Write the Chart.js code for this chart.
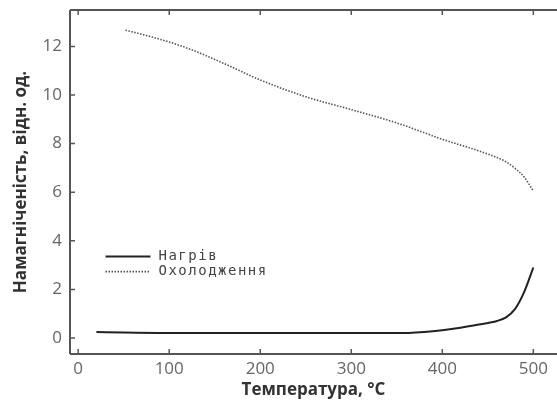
<!DOCTYPE html>
<html><head><meta charset="utf-8">
<script src="https://cdn.jsdelivr.net/npm/chart.js@4.4.1/dist/chart.umd.min.js"></script>
<style>html,body{margin:0;padding:0;background:#fff;overflow:hidden}#wrap{width:557px;height:403px}</style>
</head><body><div id="wrap"><canvas id="c"></canvas></div>
<script>
const heatT = [20, 50, 100, 150, 200, 250, 300, 350, 380, 400, 420, 440, 460, 470, 480, 490, 500];
const heatM = [0.25, 0.22, 0.2, 0.2, 0.2, 0.2, 0.2, 0.2, 0.25, 0.32, 0.42, 0.55, 0.7, 0.85, 1.2, 1.9, 2.9];
const coolT = [52, 80, 120, 160, 200, 250, 300, 350, 400, 450, 470, 480, 490, 500];
const coolM = [12.67, 12.4, 11.93, 11.3, 10.62, 9.93, 9.4, 8.85, 8.18, 7.57, 7.25, 6.98, 6.62, 6.05];
const xTicks = [0, 100, 200, 300, 400, 500];
const yTicks = [0, 2, 4, 6, 8, 10, 12];
const seriesNames = ['Нагрів', 'Охолодження'];
const xTitle = 'Температура, °C';
const yTitle = 'Намагніченість, відн. од.';

const framePlugin = {
  id: 'frame',
  afterDraw(chart) {
    const {ctx, chartArea: a, scales: {x, y}} = chart;
    ctx.save();
    ctx.strokeStyle = '#555';
    ctx.lineWidth = 2;
    ctx.beginPath();
    ctx.moveTo(a.left, a.top); ctx.lineTo(a.left, a.bottom);
    ctx.moveTo(a.left, a.bottom); ctx.lineTo(a.right, a.bottom);
    ctx.moveTo(a.left, a.top); ctx.lineTo(a.right, a.top);
    ctx.stroke();
    ctx.lineWidth = 1.5;
    ctx.beginPath();
    xTicks.forEach(v => {
      const px = x.getPixelForValue(v);
      ctx.moveTo(px, a.bottom); ctx.lineTo(px, a.bottom - 5);
      ctx.moveTo(px, a.top); ctx.lineTo(px, a.top + 5);
    });
    yTicks.forEach(v => {
      const py = y.getPixelForValue(v);
      ctx.moveTo(a.left, py); ctx.lineTo(a.left + 5, py);
    });
    ctx.stroke();
    // legend
    const ds = chart.data.datasets;
    const lx = x.getPixelForValue(30), ly0 = y.getPixelForValue(3.35), step = 15;
    ds.forEach((d, i) => {
      const yy = ly0 + i * step;
      ctx.strokeStyle = d.borderColor;
      ctx.lineWidth = d.borderWidth;
      ctx.setLineDash(d.borderDash || []);
      ctx.beginPath(); ctx.moveTo(lx, yy); ctx.lineTo(lx + 45, yy); ctx.stroke();
      ctx.setLineDash([]);
      ctx.fillStyle = '#444';
      ctx.font = '14px "DejaVu Sans Mono"';
      ctx.letterSpacing = '1.5px';
      ctx.textBaseline = 'middle';
      ctx.textAlign = 'left';
      ctx.fillText(d.label, lx + 53, yy);
    });
    ctx.restore();
  }
};

new Chart(document.getElementById('c'), {
  type: 'line',
  data: {
    datasets: [
      {label: seriesNames[0], data: heatT.map((t, i) => ({x: t, y: heatM[i]})),
       borderColor: '#222', borderWidth: 2, pointRadius: 0, cubicInterpolationMode: 'monotone', fill: false},
      {label: seriesNames[1], data: coolT.map((t, i) => ({x: t, y: coolM[i]})),
       borderColor: '#555', borderWidth: 1.6, borderDash: [1.5, 1.5], pointRadius: 0, cubicInterpolationMode: 'monotone', fill: false}
    ]
  },
  options: {
    responsive: true, maintainAspectRatio: false, animation: false,
    layout: {padding: {top: 10, right: 0, left: 11, bottom: 3}},
    plugins: {legend: {display: false}, tooltip: {enabled: false}},
    scales: {
      x: {
        type: 'linear', min: -9, max: 526,
        afterBuildTicks: s => { s.ticks = xTicks.map(v => ({value: v})); },
        afterFit: s => { s.height = 46; s.paddingLeft = 0; s.paddingRight = 0; },
        grid: {display: false, drawTicks: false},
        border: {display: false},
        ticks: {color: '#666', font: {family: 'Open Sans', size: 17}, padding: 5, maxRotation: 0},
        title: {display: true, text: xTitle, color: '#333', font: {family: 'Open Sans', size: 17, weight: 'bold'}, padding: {top: 0, bottom: 0}}
      },
      y: {
        type: 'linear', min: -0.66, max: 13.5,
        afterBuildTicks: s => { s.ticks = yTicks.map(v => ({value: v})); },
        afterFit: s => { s.width = 59; s.paddingTop = 0; s.paddingBottom = 0; },
        grid: {display: false, drawTicks: false},
        border: {display: false},
        ticks: {color: '#666', font: {family: 'Open Sans', size: 17}, padding: 8},
        title: {display: true, text: yTitle, color: '#333', font: {family: 'Open Sans', size: 17, weight: 'bold'}, padding: {top: 0, bottom: 0}}
      }
    }
  },
  plugins: [framePlugin]
});
</script></body></html>
